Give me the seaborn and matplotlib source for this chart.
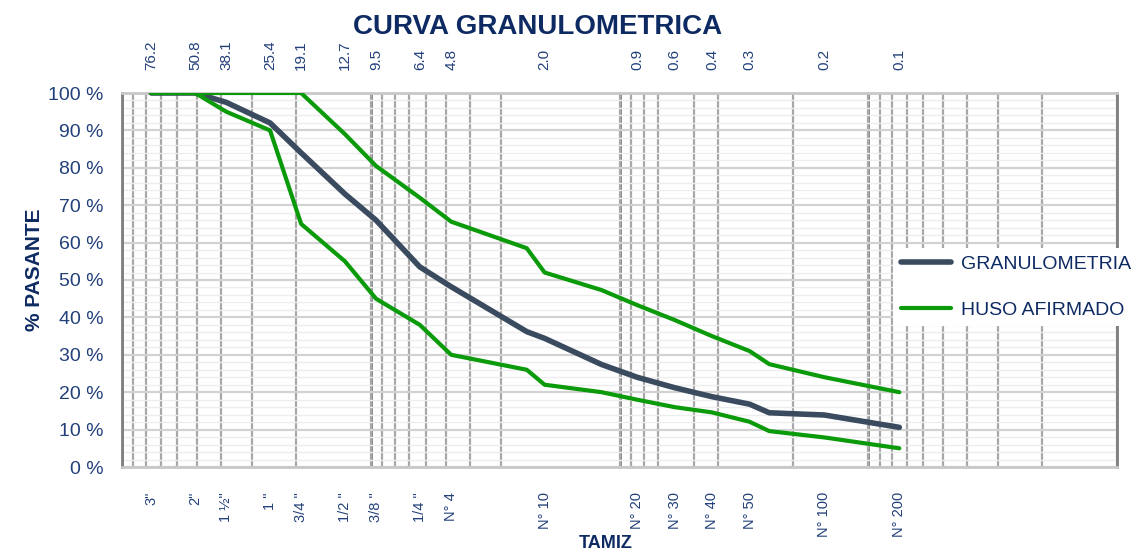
import numpy as np
import pandas as pd
import matplotlib
matplotlib.use("Agg")
import matplotlib.pyplot as plt
import seaborn as sns
from matplotlib import font_manager
from matplotlib.ticker import LogLocator, MultipleLocator, FixedLocator, NullFormatter

# --- data -------------------------------------------------------------------
# sieve openings (mm) used for the curves
sieve_mm = [76.2, 50.8, 38.1, 25.4, 19.05, 12.7, 9.525, 6.35, 4.75,
            2.36, 2.0, 1.18, 0.85, 0.6, 0.425, 0.3, 0.25, 0.15, 0.075]

granulometria = [100, 100, 97.5, 92, 84, 73, 66, 53.5, 48.2,
                 36.2, 34.4, 27.4, 24.0, 21.2, 18.8, 16.8, 14.5, 13.9, 10.6]
huso_inferior = [100, 100, 95, 90, 65, 55, 45, 38, 30,
                 26, 22, 20, 18, 16, 14.6, 12.1, 9.6, 7.9, 5]
huso_superior = [100, 100, 100, 100, 100, 89, 80.5, 72, 65.6,
                 58.5, 52, 47.3, 43.3, 39.3, 35, 31, 27.5, 24, 20]

# labelled sieves
label_mm = [76.2, 50.8, 38.1, 25.4, 19.05, 12.7, 9.525, 6.35, 4.75,
            2.0, 0.85, 0.6, 0.425, 0.3, 0.15, 0.075]
label_tamiz = ['3"', '2"', '1 ½"', '1 "', '3/4 "', '1/2 "', '3/8 "', '1/4 "', 'N° 4',
               'N° 10', 'N° 20', 'N° 30', 'N° 40', 'N° 50', 'N° 100', 'N° 200']
label_abertura = ['76.2', '50.8', '38.1', '25.4', '19.1', '12.7', '9.5', '6.4', '4.8',
                  '2.0', '0.9', '0.6', '0.4', '0.3', '0.2', '0.1']

# --- style -------------------------------------------------------------------
def pick_font(candidates):
    for fam in candidates:
        try:
            font_manager.findfont(font_manager.FontProperties(family=fam),
                                  fallback_to_default=False)
            return fam
        except ValueError:
            continue
    return "DejaVu Sans"

sns.set_theme(style="white")
font = pick_font(["Liberation Sans Narrow", "Arial Narrow", "Liberation Sans", "Arial"])
plt.rcParams["font.family"] = [font, "DejaVu Sans"]

NAVY = "#0E2A62"
TICK = "#22407A"
DARK = "#3A4A5F"
GREEN = "#0A9A0A"

fig = plt.figure(figsize=(11.34, 5.53), dpi=100)
ax = fig.add_axes([122 / 1134, 1 - 467 / 553, (1117 - 122) / 1134, (467 - 93) / 553])

df = pd.DataFrame({
    "abertura": sieve_mm * 3,
    "pasante": granulometria + huso_inferior + huso_superior,
    "serie": ["GRANULOMETRIA"] * len(sieve_mm)
             + ["inf"] * len(sieve_mm) + ["sup"] * len(sieve_mm),
})

sns.lineplot(data=df[df.serie == "GRANULOMETRIA"], x="abertura", y="pasante",
             color=DARK, lw=4, sort=False, estimator=None, ax=ax,
             label="GRANULOMETRIA", zorder=3)
sns.lineplot(data=df[df.serie == "inf"], x="abertura", y="pasante",
             color=GREEN, lw=3, sort=False, estimator=None, ax=ax,
             label="HUSO AFIRMADO", zorder=4)
sns.lineplot(data=df[df.serie == "sup"], x="abertura", y="pasante",
             color=GREEN, lw=3, sort=False, estimator=None, ax=ax,
             label="_nolegend_", zorder=4)

ax.set_xscale("log")
ax.set_xlim(100, 0.01)
ax.set_ylim(0, 100)

# grid: vertical log lines, horizontal 10 % / 2 %
ax.xaxis.set_major_locator(FixedLocator(label_mm))
ax.set_xticklabels(label_tamiz, rotation=90, fontsize=10.5, color=TICK)
ax.xaxis.set_minor_locator(LogLocator(base=10, subs=np.arange(1, 10), numticks=100))
ax.xaxis.set_minor_formatter(NullFormatter())
ax.grid(which="minor", axis="x", color="#A8A8A8", lw=1.6, zorder=0)
ax.grid(which="major", axis="x", visible=False)
for dec in [100, 10, 1, 0.1, 0.01]:
    ax.axvline(dec, color="#7F7F7F", lw=2, zorder=0.5)

ax.yaxis.set_major_locator(MultipleLocator(10))
ax.yaxis.set_minor_locator(MultipleLocator(2))
ax.grid(which="major", axis="y", color="#D2D2D2", lw=1.6, zorder=0)
ax.grid(which="minor", axis="y", color="#EDEDED", lw=1.0, zorder=0)
ax.set_yticks(np.arange(0, 101, 10))
ax.set_yticklabels([f"{v} %" for v in range(0, 101, 10)], fontsize=14, color=TICK)

ax.tick_params(axis="both", which="both", length=0)
ax.tick_params(axis="x", pad=18)
ax.tick_params(axis="y", pad=13.5)
for side in ["top", "bottom"]:
    ax.spines[side].set_color("#C8C8C8")
    ax.spines[side].set_linewidth(2)
for side in ["left", "right"]:
    ax.spines[side].set_color("#7F7F7F")
    ax.spines[side].set_linewidth(2)
ax.set_xlabel("")
ax.set_ylabel("")

# top axis with the openings in mm
ax_top = ax.twiny()
ax_top.set_xscale("log")
ax_top.set_xlim(ax.get_xlim())
ax_top.xaxis.set_major_locator(FixedLocator(label_mm))
ax_top.set_xticklabels(label_abertura, rotation=90, fontsize=11, color=TICK)
ax_top.xaxis.set_minor_locator(FixedLocator([]))
ax_top.tick_params(axis="x", length=0, pad=16.5)
for s in ax_top.spines.values():
    s.set_visible(False)
ax_top.grid(False)

fig.text(538 / 1134, 1 - 27 / 553, "CURVA GRANULOMETRICA", ha="center", va="center",
         fontsize=20, fontweight="bold", color=NAVY)
fig.text(35 / 1134, 1 - 270 / 553, "% PASANTE", ha="center", va="center",
         rotation=90, fontsize=15, fontweight="bold", color=NAVY)
fig.text(606 / 1134, 1 - 544 / 553, "TAMIZ", ha="center", va="center",
         fontsize=13, fontweight="bold", color=NAVY)

ax.get_legend().remove()
handles, labels = ax.get_legend_handles_labels()
leg = fig.legend(handles, labels, loc="center left",
                 bbox_to_anchor=(893 / 1134, 1 - 287 / 553),
                 fontsize=14, frameon=True, facecolor="white", edgecolor="none",
                 framealpha=1, handlelength=2.6, labelspacing=1.45,
                 handletextpad=0.5, borderaxespad=0, fancybox=False)
for t in leg.get_texts():
    t.set_color(NAVY)

fig.savefig("out.png", dpi=100, facecolor="white")
